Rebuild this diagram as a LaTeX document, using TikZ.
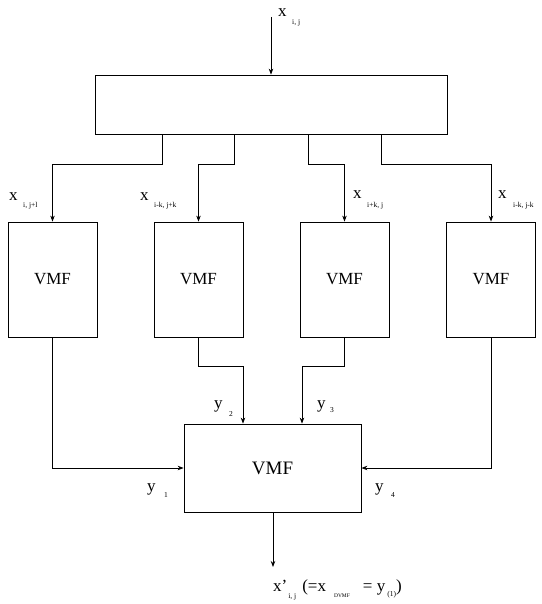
\documentclass[tikz,border=0pt]{standalone}
\usepackage{fontspec}
\setmainfont{Liberation Serif}
\usetikzlibrary{arrows.meta,calc}
\newcommand{\subf}{\fontsize{7.5}{8}\selectfont}
\tikzset{
  boxs/.style={draw,line width=0.8pt,inner sep=0pt,minimum width=89pt,minimum height=115pt,font=\fontsize{17}{19}\selectfont},
  arr/.style={line width=0.8pt,-{Stealth[length=6pt,width=4.5pt]}},
  lbl/.style={inner sep=0pt,font=\fontsize{17}{19}\selectfont},
  sb/.style={inner sep=0pt,font=\subf},
}
\begin{document}
\begin{tikzpicture}[x=1pt,y=-1pt]
\useasboundingbox (0,0) rectangle (541,604);
% boxes
\node[draw,line width=0.8pt,minimum width=352pt,minimum height=59pt,inner sep=0pt] (top) at (271,104.5) {};
\node[boxs] (b1) at (52.5,279.5) {VMF};
\node[boxs] (b2) at (198.5,279.5) {VMF};
\node[boxs] (b3) at (344.5,279.5) {VMF};
\node[boxs] (b4) at (491,279.5) {VMF};
\node[draw,line width=0.8pt,minimum width=177pt,minimum height=88pt,inner sep=0pt,font=\fontsize{19}{21}\selectfont] (bot) at (272.5,468) {VMF};
% input / output
\coordinate (in) at (271,17);
\coordinate (out) at (273,567);
\draw[arr] (in) -- (top.north);
\draw[arr] (bot.south -| out) -- (out);
% branches
\draw[arr] ([xshift=-109pt]top.south) -- ++(0,30) -| (b1.north);
\draw[arr] ([xshift=-37pt]top.south) -- ++(0,30) -| (b2.north);
\draw[arr] ([xshift=37pt]top.south) -- ++(0,30) -| (b3.north);
\draw[arr] ([xshift=110pt]top.south) -- ++(0,30) -| (b4.north);
% outputs to bottom
\draw[arr] (b1.south) |- (bot.west);
\draw[arr] (b2.south) -- ++(0,29) -| ([xshift=-29.5pt]bot.north);
\draw[arr] (b3.south) -- ++(0,29) -| ([xshift=29.5pt]bot.north);
\draw[arr] (b4.south) |- (bot.east);
% labels
\node[lbl,anchor=base west] (lx) at (278,17) {x};
\node[sb,anchor=base west] at (292,25) {i, j};
\node[lbl,anchor=base west] (lx1) at (9,200) {x};
\node[sb,anchor=base west] at (23,207) {i, j+l};
\node[lbl,anchor=base west] (lx2) at (140,200) {x};
\node[sb,anchor=base west] at (154,207) {i-k, j+k};
\node[lbl,anchor=base west] (lx3) at (353,198) {x};
\node[sb,anchor=base west] at (367,207) {i+k, j};
\node[lbl,anchor=base west] (lx4) at (498,198) {x};
\node[sb,anchor=base west] at (513,207) {i-k, j-k};
\node[lbl,anchor=base west] (ly2) at (214,408) {y};
\node[sb,anchor=base west] at (229,416) {2};
\node[lbl,anchor=base west] (ly3) at (317,408) {y};
\node[sb,anchor=base west] at (330,412) {3};
\node[lbl,anchor=base west] (ly1) at (147,491) {y};
\node[sb,anchor=base west] at (164,497) {1};
\node[lbl,anchor=base west] (ly4) at (375,491) {y};
\node[sb,anchor=base west] at (391,497) {4};
\node[lbl,anchor=base west] (lo) at (273,591) {x’\hspace{1pt}\raisebox{-7pt}{\subf i, j}\hspace{6pt}(=x\hspace{8pt}\raisebox{-6pt}{\fontsize{5.5}{6}\selectfont DVMF}\hspace{13pt}= y\hspace{2pt}\raisebox{-5pt}{\subf (1)})};
\end{tikzpicture}
\end{document}
